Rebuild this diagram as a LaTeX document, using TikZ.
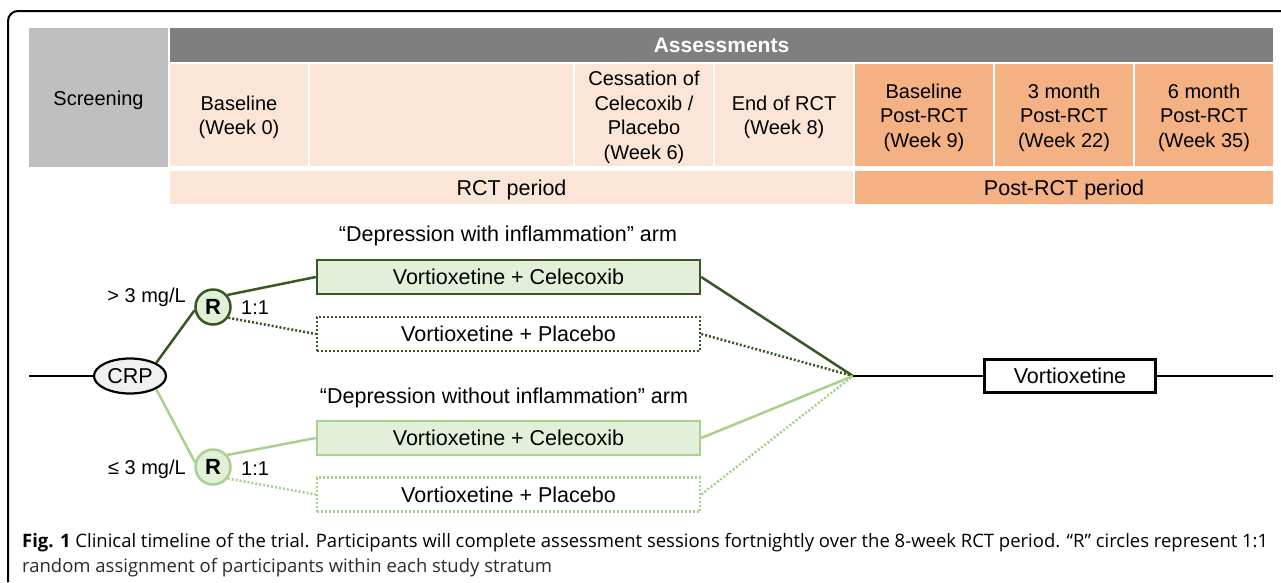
\documentclass[tikz,border=0pt]{standalone}
\usepackage{fontspec}
\setmainfont{Liberation Sans}
\newfontfamily\capfont{Open Sans}
\usetikzlibrary{shapes.geometric}
\definecolor{dkgreen}{HTML}{385723}
\definecolor{ltgreen}{HTML}{A9D18E}
\definecolor{fillgreen}{HTML}{E2F0D9}
\definecolor{peach}{HTML}{FBE5D6}
\definecolor{postorange}{HTML}{F4B183}
\definecolor{screengray}{HTML}{BFBFBF}
\definecolor{assessgray}{HTML}{7F7F7F}
\definecolor{capcol}{HTML}{2B2B2B}
\newsavebox\capboxA
\newlength\capw
\begin{document}
\sbox\capboxA{\capfont\fontsize{18.5}{22}\selectfont{\bfseries Fig. 1} Clinical timeline of the trial. Participants will complete assessment sessions fortnightly over the 8-week RCT period. “R” circles represent 1:1}%
\setlength\capw{\wd\capboxA}%
\pgfmathsetmacro\capratio{1246/\capw}%
\begin{tikzpicture}[x=1pt,y=-1pt,
  cellfill/.style={inner sep=0pt},
  rctcell/.style={cellfill, fill=peach, minimum height=102pt},
  postcell/.style={cellfill, fill=postorange, minimum height=102pt, minimum width=138pt},
  celltext/.style={inner sep=0pt, align=center, font=\fontsize{20}{24.5}\selectfont, text=black, yshift=-2.5pt},
  periodbar/.style={inner sep=0pt, minimum height=33pt},
  periodtext/.style={inner sep=0pt, font=\fontsize{21.5}{26}\selectfont, yshift=-2pt},
  boxtxt/.style={font=\fontsize{21.5}{26}\selectfont},
  tbox/.style={draw, line width=2.5pt, minimum width=383pt, minimum height=34pt, inner sep=0pt, boxtxt},
  dotbox/.style={dash pattern=on 2pt off 2pt},
  rnode/.style={circle, line width=2.5pt, fill=fillgreen, minimum size=35pt, inner sep=0pt, font=\fontsize{22}{26}\selectfont\bfseries},
  crpnode/.style={ellipse, draw, line width=2.2pt, fill=gray!12, minimum width=72pt, minimum height=35pt, inner sep=0pt, font=\fontsize{21.5}{26}\selectfont},
  blackline/.style={line width=2.5pt, black},
  dkline/.style={line width=2.5pt, dkgreen},
  ltline/.style={line width=2.5pt, ltgreen},
  dotline/.style={dash pattern=on 2pt off 2pt},
  lab/.style={inner sep=0pt, font=\fontsize{20}{24}\selectfont},
  armlab/.style={inner sep=0pt, font=\fontsize{21.5}{26}\selectfont},
  caplab/.style={inner sep=0pt, anchor=base west, text=capcol}
]
\useasboundingbox (0,0) rectangle (1281,582);
\fill[white] (0,0) rectangle (1281,582);
% frame
\draw[line width=2pt, rounded corners=10pt] (8,582) -- (8,11) -- (1285,11);
% header fills
\node[cellfill, fill=screengray, minimum width=139pt, minimum height=139pt] (scr) at (98.5,97.5) {};
\node[inner sep=0pt, fill=assessgray, minimum width=1103pt, minimum height=34pt, text=white, font=\fontsize{21}{25}\selectfont\bfseries] (ass) at (721.5,45) {Assessments};
\node[rctcell, minimum width=138pt] (c1) at (239,115) {};
\node[rctcell, minimum width=263pt] (c2) at (441.5,115) {};
\node[rctcell, minimum width=138pt] (c3) at (644,115) {};
\node[rctcell, minimum width=138pt] (c4) at (784,115) {};
\node[postcell] (c5) at (924,115) {};
\node[postcell] (c6) at (1064,115) {};
\node[postcell] (c7) at (1204,115) {};
\node[periodbar, fill=peach, minimum width=683pt] (rct) at (511.5,187.5) {};
\node[periodbar, fill=postorange, minimum width=418pt] (post) at (1064,187.5) {};
% header texts
\node[celltext] (tscr) at (scr) {Screening};
\node[celltext] (t1) at (c1) {Baseline\\(Week 0)};
\node[celltext] (t3) at (c3) {Cessation of\\Celecoxib /\\Placebo\\(Week 6)};
\node[celltext] (t4) at (c4) {End of RCT\\(Week 8)};
\node[celltext] (t5) at (c5) {Baseline\\Post-RCT\\(Week 9)};
\node[celltext] (t6) at (c6) {3 month\\Post-RCT\\(Week 22)};
\node[celltext] (t7) at (c7) {6 month\\Post-RCT\\(Week 35)};
\node[periodtext] (trct) at (rct) {RCT period};
\node[periodtext] (tpost) at (post) {Post-RCT period};
% arm labels
\node[armlab] (arm1) at (508,236) {“Depression with inflammation” arm};
\node[armlab] (arm2) at (504,398) {“Depression without inflammation” arm};
% nodes
\coordinate (start) at (29,376);
\node[crpnode] (crp) at (130,376) {CRP};
\node[rnode, draw=dkgreen] (r1) at (213,307) {R};
\node[rnode, draw=ltgreen] (r2) at (213,467) {R};
\node[lab, anchor=east] (g1) at (186,297) {> 3 mg/L};
\node[lab, anchor=east] (g2) at (186,469) {≤ 3 mg/L};
\node[lab, anchor=west] (q1) at (241,308) {1:1};
\node[lab, anchor=west] (q2) at (241,469) {1:1};
\node[tbox, draw=dkgreen, fill=fillgreen] (b1) at (508.5,277) {Vortioxetine + Celecoxib};
\node[tbox, draw=dkgreen, dotbox] (b2) at (508.5,334) {Vortioxetine + Placebo};
\node[tbox, draw=ltgreen, fill=fillgreen] (b3) at (508.5,438) {Vortioxetine + Celecoxib};
\node[tbox, draw=ltgreen, dotbox] (b4) at (508.5,494.5) {Vortioxetine + Placebo};
\coordinate (m) at (853,376);
\node[draw, line width=2.5pt, minimum width=171pt, minimum height=33pt, inner sep=0pt, boxtxt] (v) at (1070,376) {Vortioxetine};
\coordinate (end) at (1273,376);
% connectors
\draw[blackline] (start) -- (crp.west);
\draw[dkline] (crp.north east) -- (r1.190);
\draw[ltline] (crp.south east) -- (r2.165);
\draw[dkline] (r1.40) -- (b1.west);
\draw[dkline, dotline] (r1.-35) -- (b2.west);
\draw[ltline] (r2.40) -- (b3.west);
\draw[ltline, dotline] (r2.-38) -- (b4.west);
\draw[dkline] (b1.east) -- (m);
\draw[dkline, dotline] (b2.east) -- (m);
\draw[ltline] (b3.east) -- (m);
\draw[ltline, dotline] (b4.east) -- (m);
\draw[blackline] (m) -- (v.west);
\draw[blackline] (v.east) -- (end);
% caption
\node[caplab] (cap1) at (22,547) {\scalebox{\capratio}[1]{\usebox\capboxA}};
\node[caplab] (cap2) at (22,572) {\scalebox{\capratio}[1]{\capfont\fontsize{18.5}{22}\selectfont random assignment of participants within each study stratum}};
\end{tikzpicture}
\end{document}
